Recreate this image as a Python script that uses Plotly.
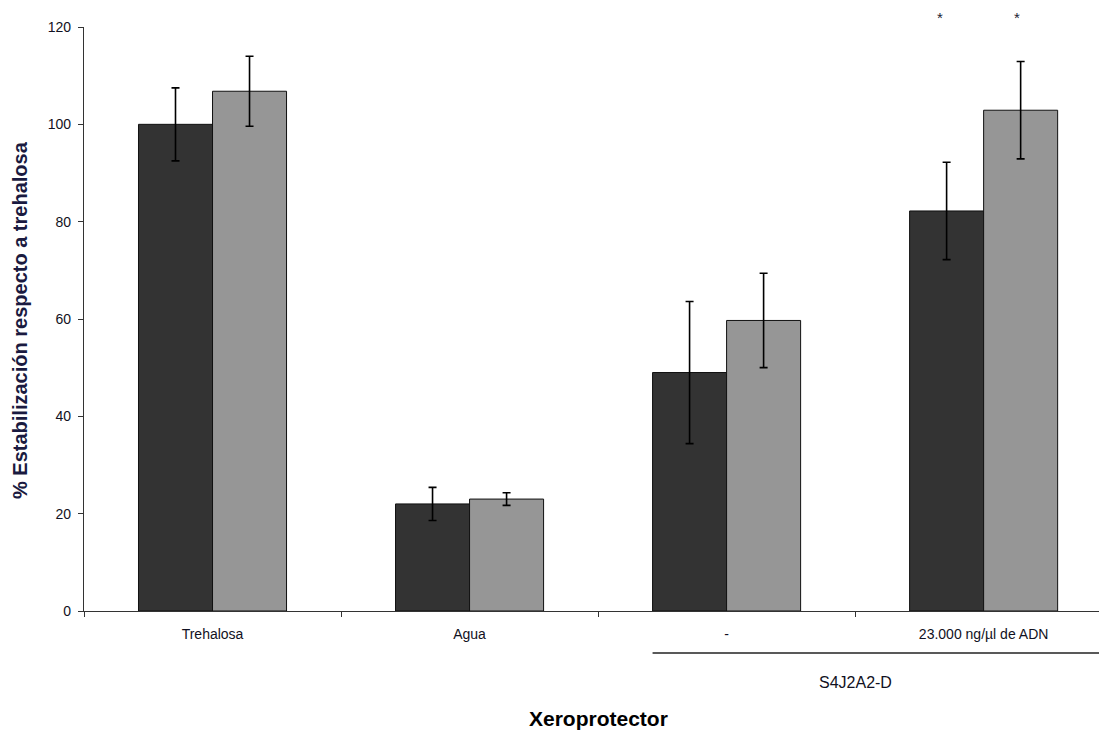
import plotly.graph_objects as go

categories = ["Trehalosa", "Agua", "-", "23.000 ng/µl de ADN"]
serie_oscura = [100, 22, 49, 82.2]
error_oscura = [7.5, 3.4, 14.6, 10.0]
serie_clara = [106.8, 23, 59.7, 102.9]
error_clara = [7.2, 1.3, 9.7, 10.0]
y_ticks = [0, 20, 40, 60, 80, 100, 120]
grupo = "S4J2A2-D"
estrellas_cat = "23.000 ng/µl de ADN"

OFF = 8  # page body margin
W, H = 1107 - OFF, 733 - OFF
L, R, T, B = 84 - OFF, 0, 27 - OFF, 733 - 611
plot_h = H - T - B
plot_w = W - L - R

def py(ypx):  # page pixel y -> paper
    return (611 - ypx) / plot_h

def px(xpx):  # page pixel x -> paper
    return (xpx - 84) / plot_w

font_fam = "Liberation Sans, Arial, sans-serif"
bar_w = 0.288

fig = go.Figure()
fig.add_trace(go.Bar(
    x=categories, y=serie_oscura,
    marker=dict(color="#333333", line=dict(color="#111111", width=1)),
    error_y=dict(type="data", array=error_oscura, color="#000000", thickness=1.6, width=4),
    showlegend=False,
))
fig.add_trace(go.Bar(
    x=categories, y=serie_clara,
    marker=dict(color="#969696", line=dict(color="#111111", width=1)),
    error_y=dict(type="data", array=error_clara, color="#000000", thickness=1.6, width=4),
    showlegend=False,
))

idx = categories.index(estrellas_cat)
for dx in (-bar_w / 2 - 0.025, bar_w / 2 - 0.015):
    fig.add_annotation(x=idx + dx, y=py(15), xref="x", yref="paper", text="*",
                       showarrow=False, font=dict(size=15, color="#222233", family=font_fam),
                       xanchor="center", yanchor="middle", yshift=-3)

# group line and label
g0 = categories.index("-")
fig.add_shape(type="line", xref="x", yref="paper", x0=g0 - bar_w, x1=3.6,
              y0=py(653), y1=py(653), line=dict(color="#222222", width=1.3))
fig.add_annotation(x=g0 + 0.5, y=py(682), xref="x", yref="paper", text=grupo,
                   xanchor="center", yanchor="middle",
                   showarrow=False, font=dict(size=16, color="#111122", family=font_fam))
fig.add_annotation(x=px(598), y=py(718), xref="paper", yref="paper", text="<b>Xeroprotector</b>",
                   xanchor="center", yanchor="middle",
                   showarrow=False, font=dict(size=21, color="#000000", family=font_fam))
fig.add_annotation(x=px(20), y=py(320), xref="paper", yref="paper",
                   text="<b>% Estabilización respecto a trehalosa</b>", textangle=-90,
                   xanchor="center", yanchor="middle",
                   showarrow=False, font=dict(size=20, color="#1a1a40", family=font_fam))

fig.update_layout(
    width=W, height=H,
    margin=dict(l=L, r=R, t=T, b=B, autoexpand=False),
    paper_bgcolor="white", plot_bgcolor="white",
    barmode="group", bargap=1 - 2 * bar_w, bargroupgap=0,
    font=dict(family=font_fam, size=14, color="#111122"),
)
fig.update_xaxes(
    type="category", range=[-0.5, 3.48], showline=True, linecolor="#333333", linewidth=1.3,
    ticks="outside", tickson="boundaries", ticklen=5, tickcolor="#333333",
    showgrid=False, zeroline=False, ticklabelstandoff=10,
    tickfont=dict(size=14, color="#111122"),
)
fig.update_yaxes(
    range=[0, 120], tickvals=y_ticks, showline=True, linecolor="#333333", linewidth=1.3,
    ticks="outside", ticklen=5, tickcolor="#333333", showgrid=False, zeroline=False,
    ticklabelstandoff=4, tickfont=dict(size=14, color="#111122"),
)

fig.write_html("out.html")
